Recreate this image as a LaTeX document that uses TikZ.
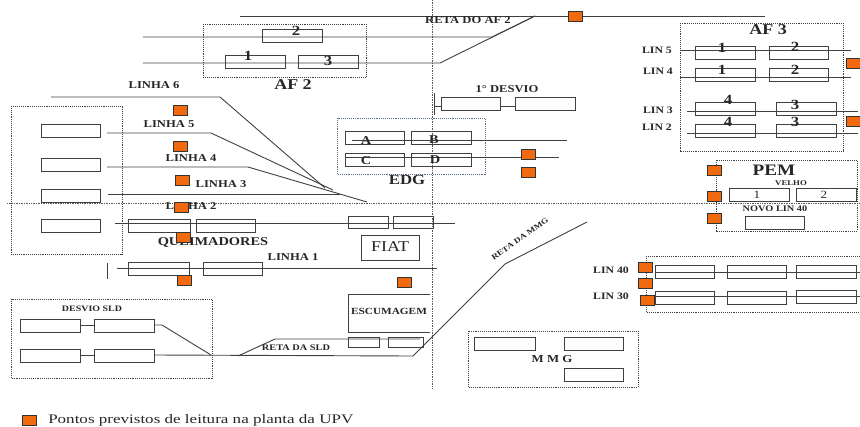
\documentclass[tikz,border=0pt]{standalone}
\usepackage{fontspec}
\setmainfont{Liberation Serif}
\definecolor{ptorange}{HTML}{F26A10}
\definecolor{linegray}{HTML}{404040}
\definecolor{ruleblue}{HTML}{5A6F8A}
\newcommand{\fsz}[1]{\fontsize{#1}{#1}\selectfont}
\tikzset{
  track/.style={draw=linegray,line width=0.9pt},
  unit/.style={draw=linegray,line width=0.9pt},
  zone/.style={draw=black!75,line width=0.9pt,densely dotted},
  axis/.style={draw=black!65,line width=0.7pt,densely dotted},
  wide/.style={inner sep=0pt,transform shape,xscale=1.2,text=black!85},
  lbl/.style={wide,font=\bfseries\fsz{10.5}},
  big/.style={wide,font=\bfseries\fsz{15}},
  num/.style={wide,font=\bfseries\fsz{14}},
  let/.style={wide,font=\bfseries\fsz{12}},
  pt/.style={draw=black!80,fill=ptorange,line width=0.7pt,minimum width=14pt,minimum height=10pt,inner sep=0pt},
}
\newcommand{\bx}[4]{\draw[unit] (#1,#2) rectangle (#3,#4);}
\begin{document}
\begin{tikzpicture}[x=1pt,y=-1pt]
\useasboundingbox (0,0) rectangle (860,426);
% axes
\draw[axis] (432,0) -- (432,388);
\draw[axis] (7,203) -- (860,203);
% top tracks
\draw[track] (240,16) -- (765,16);
\draw[track] (143,37) -- (492,37) -- (535,16);
\draw[track] (143,63) -- (440,63) -- (535,16);
% AF2
\draw[zone] (203,24) rectangle (366,77);
\bx{262}{29}{322}{42}\bx{225}{55}{285}{68}\bx{298}{55}{358}{68}
\node[num] (af2b) at (296,31) {2};
\node[num] (af2a) at (248,56) {1};
\node[num] (af2c) at (328,61) {3};
\node[big] (af2) at (293,85) {AF 2};
\node[lbl] (retaaf) at (468,20) {RETA DO AF 2};
% left group
\draw[zone] (11,106) rectangle (122,254);
\bx{41}{124}{100}{137}\bx{41}{158}{100}{171}\bx{41}{189}{100}{202}\bx{41}{219}{100}{232}
\draw[track] (51,97) -- (220,97) -- (325,188);
\draw[track] (107,133) -- (211,133) -- (333,190);
\draw[track] (107,167) -- (248,167) -- (367,202);
\draw[track] (108,194) -- (340,194);
\node[lbl] (l6) at (154,85) {LINHA 6};
\node[lbl] (l5) at (169,124) {LINHA 5};
\node[lbl] (l4) at (191,158) {LINHA 4};
\node[lbl] (l3) at (221,184) {LINHA 3};
\node[lbl] (l2) at (191,206) {LINHA 2};
% linha 2
\draw[track] (115,223) -- (455,223);
\bx{128}{219}{190}{232}\bx{196}{219}{255}{232}\bx{348}{216}{388}{228}\bx{393}{216}{433}{228}
\node[wide,font=\bfseries\fsz{12}] (queim) at (213,242) {QUEIMADORES};
\bx{361}{235}{419}{260}
\node[wide,font=\fsz{15}] (fiat) at (390,247) {FIAT};
% linha 1
\node[lbl] (l1) at (293,257) {LINHA 1};
\draw[track] (107,263) -- (107,279);
\draw[track] (117,268) -- (437,268);
\bx{128}{262}{189}{275}\bx{203}{262}{262}{275}
% escumagem
\draw[unit] (430,294) -- (348,294) -- (348,332) -- (430,332);
\node[wide,font=\bfseries\fsz{9.4}] (esc) at (389,311) {ESCUMAGEM};
\bx{348}{337}{379}{347}\bx{388}{337}{423}{347}
\draw[track] (154,355) -- (413,356) -- (505,264) -- (587,222);
\draw[track] (238,356) -- (275,339) -- (420,339);
\node[wide,font=\bfseries\fsz{8.6}] (retasld) at (296,348) {RETA DA SLD};
% desvio SLD
\draw[zone] (11,299) rectangle (212,378);
\bx{20}{319}{80}{332}\bx{94}{319}{154}{332}\bx{20}{349}{80}{362}\bx{94}{349}{154}{362}
\draw[track] (80,325) -- (94,325);
\draw[track] (154,325) -- (162,325) -- (211,355);
\draw[track] (80,355) -- (94,355);
\node[wide,font=\bfseries\fsz{8.3}] (dsld) at (92,309) {DESVIO SLD};
% 1o desvio
\node[lbl] (d1) at (507,89) {1° DESVIO};
\draw[track] (434,93) -- (434,115);
\draw[track] (434,106) -- (441,106);
\draw[track] (500,106) -- (515,106);
\bx{441}{97}{500}{110}\bx{515}{97}{575}{110}
% EDG
\draw[draw=ruleblue,line width=0.9pt,densely dotted] (337,118) rectangle (485,174);
\draw[track] (352,140) -- (567,140);
\draw[track] (345,157) -- (559,157);
\bx{345}{131}{404}{144}\bx{411}{131}{471}{144}\bx{345}{153}{404}{166}\bx{411}{153}{471}{166}
\node[let] (ea) at (366,141) {A};
\node[let] (eb) at (434,140) {B};
\node[let] (ec) at (366,161) {C};
\node[let] (ed) at (435,160) {D};
\node[wide,font=\bfseries\fsz{14}] (edg) at (407,180) {EDG};
% AF3
\draw[zone] (680,23) rectangle (843,151);
\node[big] (af3) at (768,30) {AF 3};
\draw[track] (680,50) -- (851,50);
\draw[track] (680,77) -- (851,77);
\draw[track] (687,111) -- (858,111);
\draw[track] (687,133) -- (858,133);
\bx{695}{46}{755}{59}\bx{769}{46}{828}{59}\bx{695}{68}{755}{81}\bx{769}{68}{828}{81}
\bx{695}{102}{755}{115}\bx{776}{102}{836}{115}\bx{695}{124}{755}{137}\bx{776}{124}{836}{137}
\node[num] (a31) at (722,48) {1};
\node[num] (a32) at (795,47) {2};
\node[num] (a33) at (722,70) {1};
\node[num] (a34) at (795,70) {2};
\node[num] (a35) at (728,100) {4};
\node[num] (a36) at (795,105) {3};
\node[num] (a37) at (728,122) {4};
\node[num] (a38) at (795,122) {3};
\node[wide,font=\bfseries\fsz{9.8}] (lin5) at (657,50) {LIN 5};
\node[wide,font=\bfseries\fsz{9.8}] (lin4) at (658,71) {LIN 4};
\node[wide,font=\bfseries\fsz{9.8}] (lin3) at (658,110) {LIN 3};
\node[wide,font=\bfseries\fsz{9.8}] (lin2) at (657,127) {LIN 2};
% PEM
\draw[zone] (716,160) rectangle (857,231);
\node[wide,font=\bfseries\fsz{16}] (pem) at (774,170) {PEM};
\node[wide,font=\bfseries\fsz{7.3}] (velho) at (791,183) {VELHO};
\bx{729}{188}{789}{201}\bx{796}{188}{856}{201}
\node[wide,font=\fsz{11}] (p1) at (757,195) {1};
\node[wide,font=\fsz{11}] (p2) at (824,195) {2};
\node[wide,font=\bfseries\fsz{8.6}] (novo) at (775,209) {NOVO LIN 40};
\bx{745}{216}{804}{229}
% LIN 40/30
\draw[zone] (646,256) -- (860,256);
\draw[zone] (646,256) -- (646,312) -- (860,312);
\draw[track] (655,272) -- (860,272);
\draw[track] (655,296) -- (860,296);
\bx{655}{265}{714}{278}\bx{727}{265}{786}{278}\bx{796}{265}{856}{278}
\bx{655}{291}{714}{304}\bx{727}{291}{786}{304}\bx{796}{290}{856}{303}
\node[wide,font=\bfseries\fsz{9.8}] (lin40) at (611,270) {LIN 40};
\node[wide,font=\bfseries\fsz{9.8}] (lin30) at (611,296) {LIN 30};
% MMG
\draw[zone] (468,331) rectangle (638,387);
\bx{474}{337}{535}{350}\bx{564}{337}{623}{350}\bx{564}{368}{623}{381}
\node[wide,font=\bfseries\fsz{10.7}] (mmg) at (552,359) {M M G};
\node[inner sep=0pt,text=black!85,transform shape,rotate=35,xscale=1.2,font=\bfseries\fsz{7.7}] (retammg) at (520,239) {RETA DA MMG};
% reading points
\foreach \n/\x/\y in {p1a/575/16,p2a/180/110,p3a/180/146,p4a/182/180,p5a/181/207,p6a/183/237,p7a/184/280,p8a/404/282,p9a/528/154,p10a/528/172,p11a/853/63,p12a/853/121,p13a/714/170,p14a/714/196,p15a/714/218,p16a/645/267,p17a/645/283,p18a/647/300}
  \node[pt] (\n) at (\x,\y) {};
% legend
\node[pt] (legpt) at (29,420.5) {};
\node[anchor=west,inner sep=0pt,text=black!85,transform shape,xscale=1.31,font=\fsz{13}] (legtxt) at (48,420) {Pontos previstos de leitura na planta da UPV};
\end{tikzpicture}
\end{document}
